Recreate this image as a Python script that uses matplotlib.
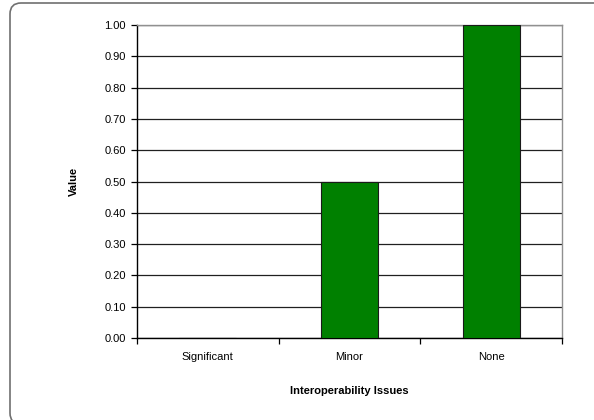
import numpy as np
import matplotlib.pyplot as plt
from matplotlib.patches import FancyBboxPatch

categories = ["Significant", "Minor", "None"]
values = [0.0, 0.5, 1.0]
yticks = [0.0, 0.1, 0.2, 0.3, 0.4, 0.5, 0.6, 0.7, 0.8, 0.9, 1.0]

plt.rcParams['font.family'] = ['Liberation Sans', 'DejaVu Sans']

fig = plt.figure(figsize=(5.94, 4.2), dpi=100)
W, H = 594, 420

# rounded outer frame (runs off the right and bottom edges)
frame = FancyBboxPatch((10, -4), 620, 421,
                       boxstyle="round,pad=0,rounding_size=11",
                       transform=None, fill=False,
                       edgecolor='#707070', linewidth=1.2)
fig.patches.append(frame)

ax = fig.add_axes([137 / W, (H - 338) / H, (562 - 137) / W, (338 - 25) / H])
x = np.arange(len(categories))
ax.bar(x, values, width=0.4, color='#008000', edgecolor='#1a1a1a', linewidth=0.8, zorder=3)

ax.set_xlim(-0.5, len(categories) - 0.5)
ax.set_ylim(0, 1.0)
ax.set_yticks(yticks)
ax.set_yticklabels([f"{v:.2f}" for v in yticks], fontsize=8)
ax.yaxis.grid(True, color='#202020', linewidth=0.9, zorder=0)
ax.set_axisbelow(True)

ax.set_xticks(x)
ax.set_xticklabels(categories, fontsize=8)
ax.set_xticks(np.arange(-0.5, len(categories)), minor=True)
ax.tick_params(axis='x', which='major', length=0, pad=10)
ax.tick_params(axis='x', which='minor', length=4, width=0.9, direction='out')
ax.tick_params(axis='y', length=4, width=0.9, direction='out', pad=4)

for s in ['left', 'bottom']:
    ax.spines[s].set_color('black')
    ax.spines[s].set_linewidth(1.0)
for s in ['top', 'right']:
    ax.spines[s].set_color('#909090')
    ax.spines[s].set_linewidth(1.0)

ax.set_xlabel("Interoperability Issues", fontsize=8, fontweight='bold', labelpad=17)
ax.set_ylabel("Value", fontsize=8, fontweight='bold', labelpad=18)

fig.savefig("out.png", dpi=100)
